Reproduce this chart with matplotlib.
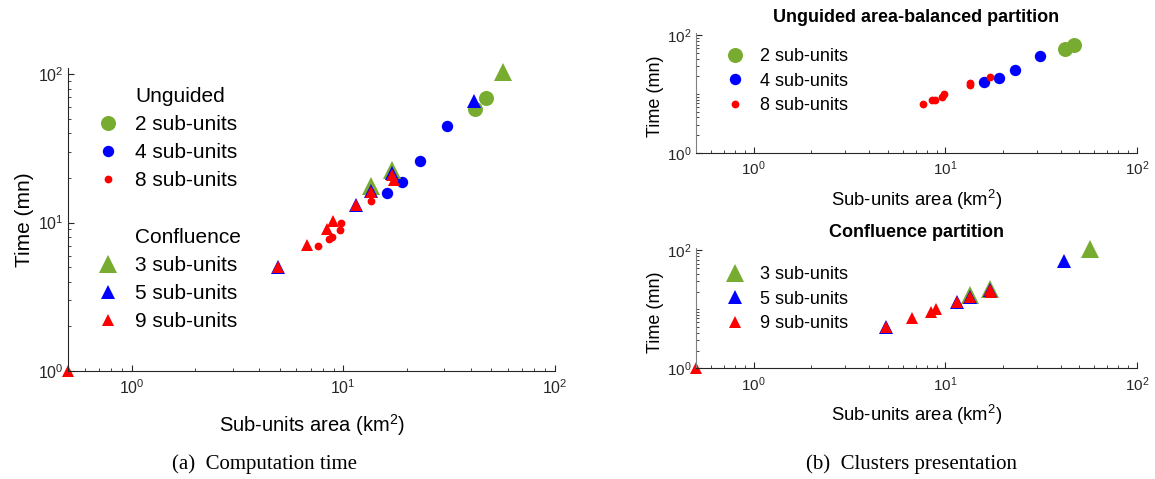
import matplotlib
matplotlib.use("Agg")
import matplotlib.pyplot as plt
from matplotlib.lines import Line2D
from matplotlib.ticker import LogLocator, NullFormatter, FixedLocator

plt.rcParams['font.family'] = ['Liberation Sans', 'DejaVu Sans']
plt.rcParams['mathtext.default'] = 'regular'

GREEN = '#77AC30'
BLUE = '#0000FF'
RED = '#FF0000'
AX_COLOR = '#262626'

# Unguided area-balanced partition (area km2, time mn)
ung2_area = [41.9, 47.0]
ung2_time = [58.5, 69.5]
ung4_area = [16.0, 19.0, 23.0, 31.0]
ung4_time = [15.8, 18.9, 26.0, 44.5]
ung8_area = [7.6, 8.55, 8.8, 9.65, 9.8, 13.5, 13.5, 17.2]
ung8_time = [6.9, 7.8, 8.0, 8.9, 10.0, 14.0, 15.5, 19.9]

# Confluence partition
conf3_area = [13.5, 17.0, 57.0]
conf3_time = [17.5, 22.5, 104.0]
conf5_area = [4.9, 11.5, 13.5, 17.0, 41.5]
conf5_time = [5.0, 13.2, 16.3, 21.5, 66.0]
conf9_area = [0.5, 4.9, 6.7, 8.4, 8.95, 11.5, 13.5, 17.0, 17.3]
conf9_time = [1.0, 5.0, 7.1, 9.0, 10.2, 13.2, 16.0, 21.0, 19.5]

circle_sizes = [10.8, 8.2, 5.6]
tri_sizes = [13.0, 10.4, 8.0]
colors = [GREEN, BLUE, RED]


def style_axes(ax, ylabels_all=True, fs=10):
    ax.set_xscale('log')
    ax.set_yscale('log')
    ax.set_xlim(0.5, 100)
    ax.set_ylim(1, 110)
    for s in ['top', 'right']:
        ax.spines[s].set_visible(False)
    ax.spines['bottom'].set_color(AX_COLOR)
    ax.spines['left'].set_color('#808080' if not ylabels_all else AX_COLOR)
    ax.xaxis.set_major_locator(FixedLocator([1, 10, 100]))
    ax.xaxis.set_minor_locator(LogLocator(base=10, subs=range(2, 10)))
    ax.xaxis.set_minor_formatter(NullFormatter())
    if ylabels_all:
        ax.yaxis.set_major_locator(FixedLocator([1, 10, 100]))
        ax.yaxis.set_minor_locator(LogLocator(base=10, subs=range(2, 10)))
    else:
        ax.yaxis.set_major_locator(FixedLocator([1, 100]))
        ax.yaxis.set_minor_locator(FixedLocator(
            [2, 3, 4, 5, 6, 7, 8, 9, 10, 20, 30, 40, 50, 60, 70, 80, 90]))
    ax.yaxis.set_minor_formatter(NullFormatter())
    ax.tick_params(which='both', direction='in', colors=AX_COLOR, labelsize=fs)
    ax.tick_params(which='major', length=4, width=0.8)
    ax.tick_params(which='minor', length=2.5, width=0.6)
    ax.tick_params(axis='x', pad=5)
    ax.tick_params(axis='y', pad=3)


def plot_unguided(ax):
    for a, t, c, s in zip([ung2_area, ung4_area, ung8_area],
                          [ung2_time, ung4_time, ung8_time], colors, circle_sizes):
        ax.plot(a, t, 'o', color=c, ms=s, mew=0, clip_on=False)


def plot_confluence(ax):
    for a, t, c, s in zip([conf3_area, conf5_area, conf9_area],
                          [conf3_time, conf5_time, conf9_time], colors, tri_sizes):
        ax.plot(a, t, '^', color=c, ms=s, mew=0, clip_on=False)


def main():
    fig = plt.figure(figsize=(11.55, 4.79), dpi=100)
    W, H = 1155, 479

    # (a) computation time
    ax1 = fig.add_axes([68 / W, (H - 371) / H, 487 / W, 303 / H])
    style_axes(ax1, fs=11.5)
    plot_unguided(ax1)
    plot_confluence(ax1)
    ax1.set_xlabel(r'Sub-units area (km$^{2}$)', fontsize=14.5, color='black')
    ax1.set_ylabel('Time (mn)', fontsize=15, color='black')
    ax1.xaxis.set_label_coords(0.5, -0.135)
    ax1.yaxis.set_label_coords(-0.07, 0.5)

    blank = Line2D([], [], linestyle='none', marker=None)
    handles = [blank]
    labels = ['Unguided']
    for c, s, n in zip(colors, circle_sizes, ['2', '4', '8']):
        handles.append(Line2D([], [], linestyle='none', marker='o', color=c, ms=s, mew=0))
        labels.append(n + ' sub-units')
    handles += [blank, blank]
    labels += [' ', 'Confluence']
    for c, s, n in zip(colors, tri_sizes, ['3', '5', '9']):
        handles.append(Line2D([], [], linestyle='none', marker='^', color=c, ms=s, mew=0))
        labels.append(n + ' sub-units')
    ax1.legend(handles, labels, loc='upper left', bbox_to_anchor=(97.5 / W, 1 - 87 / H),
               bbox_transform=fig.transFigure, frameon=False, fontsize=15,
               handlelength=1.0, handletextpad=0.8, labelspacing=0.44,
               borderpad=0, borderaxespad=0)

    # (b) top: unguided
    ax2 = fig.add_axes([696 / W, (H - 152.7) / H, 441 / W, 119.7 / H])
    style_axes(ax2, ylabels_all=False, fs=11)
    plot_unguided(ax2)
    ax2.set_title('Unguided area-balanced partition', fontsize=13, fontweight='bold', pad=8)
    ax2.set_xlabel(r'Sub-units area (km$^{2}$)', fontsize=13.3)
    ax2.set_ylabel('Time (mn)', fontsize=13)
    ax2.xaxis.set_label_coords(0.5, -0.29)
    ax2.yaxis.set_label_coords(-0.072, 0.47)
    h2 = [Line2D([], [], linestyle='none', marker='o', color=c, ms=s, mew=0)
          for c, s in zip(colors, circle_sizes)]
    ax2.legend(h2, ['2 sub-units', '4 sub-units', '8 sub-units'], loc='upper left',
               bbox_to_anchor=(726 / W, 1 - 48 / H), bbox_transform=fig.transFigure,
               frameon=False, fontsize=13, handlelength=1.0, handletextpad=0.9,
               labelspacing=0.42, borderpad=0, borderaxespad=0)

    # (b) bottom: confluence
    ax3 = fig.add_axes([696 / W, (H - 368.3) / H, 441 / W, 120.3 / H])
    style_axes(ax3, ylabels_all=False, fs=11)
    plot_confluence(ax3)
    ax3.set_title('Confluence partition', fontsize=13, fontweight='bold', pad=8)
    ax3.set_xlabel(r'Sub-units area (km$^{2}$)', fontsize=13.3)
    ax3.set_ylabel('Time (mn)', fontsize=13)
    ax3.xaxis.set_label_coords(0.5, -0.29)
    ax3.yaxis.set_label_coords(-0.072, 0.47)
    h3 = [Line2D([], [], linestyle='none', marker='^', color=c, ms=s, mew=0)
          for c, s in zip(colors, tri_sizes)]
    ax3.legend(h3, ['3 sub-units', '5 sub-units', '9 sub-units'], loc='upper left',
               bbox_to_anchor=(726 / W, 1 - 266 / H), bbox_transform=fig.transFigure,
               frameon=False, fontsize=13, handlelength=1.0, handletextpad=0.9,
               labelspacing=0.42, borderpad=0, borderaxespad=0)

    # captions
    fig.text(265 / W, 1 - 464 / H, '(a)  Computation time', family='Liberation Serif',
             fontsize=15, ha='center', va='center')
    fig.text(912 / W, 1 - 464 / H, '(b)  Clusters presentation', family='Liberation Serif',
             fontsize=15, ha='center', va='center')

    fig.savefig('out.png', dpi=100)


if __name__ == '__main__':
    main()
